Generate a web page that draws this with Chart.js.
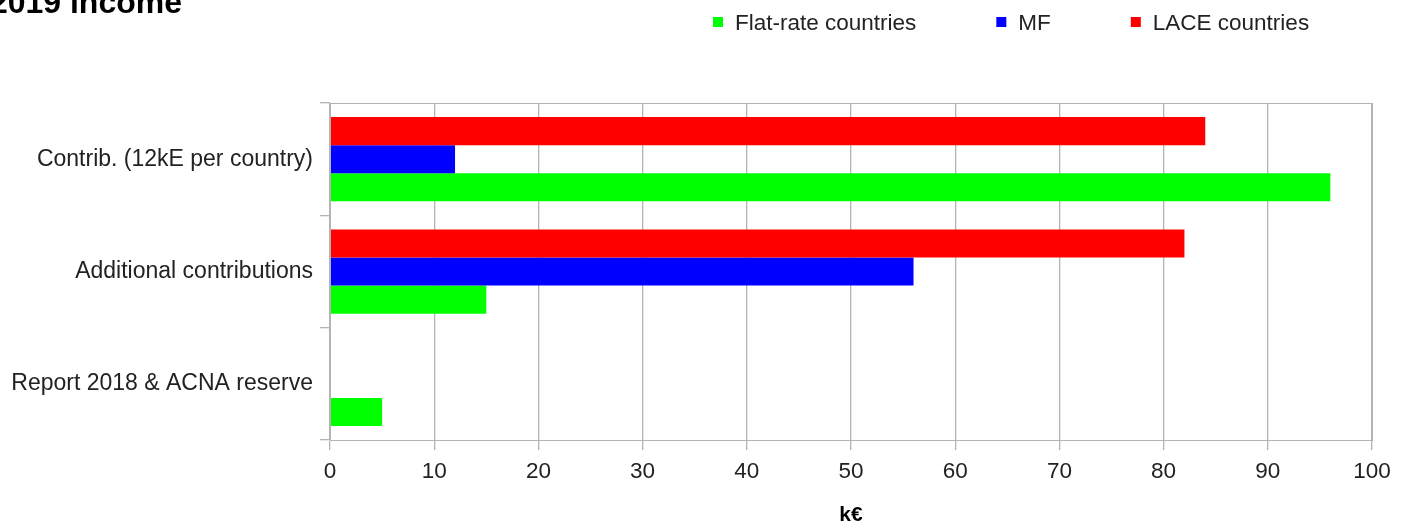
<!DOCTYPE html>
<html>
<head>
<meta charset="utf-8">
<script src="https://cdn.jsdelivr.net/npm/chart.js@4/dist/chart.umd.min.js"></script>
<style>
  html, body { margin: 0; padding: 0; background: #fff; }
  #wrap { width: 1408px; height: 528px; }
</style>
</head>
<body>
<div id="wrap"><canvas id="chart"></canvas></div>
<script>
// 2019 income (k€)
const categories = ['Contrib. (12kE per country)', 'Additional contributions', 'Report 2018 & ACNA reserve'];
const flatRate = [96, 15, 5];
const mf = [12, 56, 0];
const lace = [84, 82, 0];
const xTicks = [0, 10, 20, 30, 40, 50, 60, 70, 80, 90, 100];

const FONT = '"Liberation Sans", Arial, sans-serif';
const GRID = '#b3b3b3';

// title + legend drawn on top, plot frame around the chart area
const extras = {
    id: 'extras',
    afterDraw(chart) {
        const ctx = chart.ctx;
        const area = chart.chartArea;
        ctx.save();
        ctx.strokeStyle = GRID;
        ctx.lineWidth = 1;
        ctx.strokeRect(area.left + 0.5, area.top + 0.5, area.right - area.left, area.bottom - area.top);

        // title, partly cut at the left edge like the reference
        ctx.fillStyle = '#000';
        ctx.font = 'bold 32px ' + FONT;
        ctx.textBaseline = 'alphabetic';
        const t = '2019 income';
        ctx.fillText(t, 182 - ctx.measureText(t).width, 13);

        // legend: same order as reference (reverse of dataset order)
        ctx.font = '22.5px ' + FONT;
        ctx.textBaseline = 'middle';
        let x = 713;
        const y = 22;
        chart.data.datasets.slice().reverse().forEach(ds => {
            ctx.fillStyle = ds.backgroundColor;
            ctx.fillRect(x, y - 5, 10, 10);
            ctx.fillStyle = '#222';
            ctx.fillText(ds.label, x + 22, y + 1.5);
            x += 22 + ctx.measureText(ds.label).width + 80;
        });
        ctx.restore();
    }
};

const ctx = document.getElementById('chart').getContext('2d');
const myChart = new Chart(ctx, {
    type: 'bar',
    data: {
        labels: categories,
        datasets: [{
            label: 'LACE countries',
            data: lace,
            backgroundColor: '#ff0000'
        }, {
            label: 'MF',
            data: mf,
            backgroundColor: '#0000ff'
        }, {
            label: 'Flat-rate countries',
            data: flatRate,
            backgroundColor: '#00ff00'
        }]
    },
    options: {
        indexAxis: 'y',
        responsive: true,
        maintainAspectRatio: false,
        animation: false,
        datasets: {
            bar: {
                categoryPercentage: 0.75,
                barPercentage: 1.0,
                borderWidth: 0
            }
        },
        layout: {
            padding: { top: 103, right: 36, bottom: 0, left: 0 }
        },
        plugins: {
            legend: { display: false },
            title: { display: false },
            tooltip: { enabled: false }
        },
        scales: {
            x: {
                min: 0,
                max: 100,
                afterBuildTicks: (scale) => {
                    scale.ticks = xTicks.map(v => ({ value: v }));
                },
                afterFit: (scale) => { scale.height = 88; },
                grid: {
                    color: GRID,
                    lineWidth: 1.3,
                    tickLength: 10,
                    drawTicks: true
                },
                border: { color: GRID },
                ticks: {
                    color: '#222',
                    padding: 8,
                    font: { family: FONT, size: 22.5 }
                },
                title: {
                    display: true,
                    text: 'k€',
                    color: '#000',
                    padding: { top: 0, bottom: 0 },
                    font: { family: FONT, size: 21, weight: 'bold' }
                }
            },
            y: {
                afterFit: (scale) => { scale.width = 330; },
                grid: {
                    color: GRID,
                    lineWidth: 1.3,
                    offset: true,
                    drawOnChartArea: false,
                    drawTicks: true,
                    tickLength: 10
                },
                border: { color: GRID },
                ticks: {
                    color: '#222',
                    padding: 7,
                    font: { family: FONT, size: 23 }
                }
            }
        }
    },
    plugins: [extras]
});
</script>
</body>
</html>
